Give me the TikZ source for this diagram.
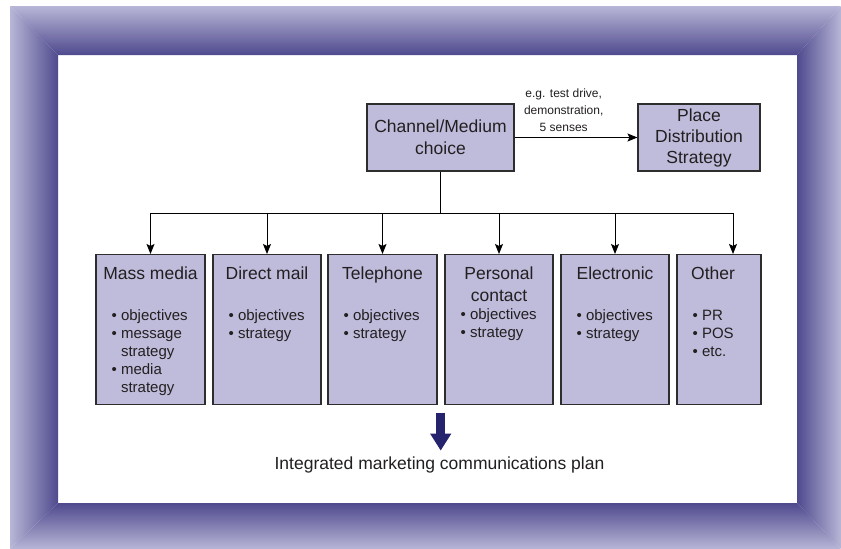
\documentclass[tikz,border=0pt]{standalone}
\usepackage{fontspec}
\setmainfont{Liberation Sans}
\usepackage{tikz}
\usetikzlibrary{calc}
\usetikzlibrary{arrows.meta}
\usepackage{xcolor}
\definecolor{frameDark}{RGB}{79,74,142}
\definecolor{frameLight}{RGB}{184,182,215}
\definecolor{boxFill}{RGB}{190,187,219}
\definecolor{boxLine}{RGB}{45,45,45}
\definecolor{inkGray}{RGB}{35,31,32}
\definecolor{navy}{RGB}{37,34,110}

\begin{document}
\begin{tikzpicture}[x=1pt, y=-1pt,
  box/.style={draw=boxLine, fill=boxFill, line width=1.1pt, inner sep=0pt},
  medium/.style={box, minimum width=#1, minimum height=150, anchor=north},
  head/.style={text=inkGray, font=\fontsize{17.5}{22}\selectfont, align=center, inner sep=0pt},
  items/.style={text=inkGray, font=\fontsize{15}{18}\selectfont, align=left, inner sep=0pt, anchor=base west},
  note/.style={text=inkGray, font=\fontsize{12}{17}\selectfont, align=center, inner sep=0pt},
  >={Stealth[length=10pt, width=8pt, inset=2pt]}
]

% frame
\fill[white] (0,0) rectangle (841,549);
\shade[top color=frameLight, bottom color=frameDark] (10,6) -- (841,6) -- (797,55) -- (58,55) -- cycle;
\shade[top color=frameDark, bottom color=frameLight] (58,503) -- (797,503) -- (841,549) -- (10,549) -- cycle;
\shade[left color=frameLight, right color=frameDark] (10,6) -- (58,55) -- (58,503) -- (10,549) -- cycle;
\shade[left color=frameDark, right color=frameLight] (797,55) -- (841,6) -- (841,549) -- (797,503) -- cycle;

% top row
\node[box, head, minimum width=147, minimum height=67] (chan) at (440.5,137.5) {Channel/Medium\\choice};
\node[box, head, minimum width=122, minimum height=67, font=\fontsize{17.5}{21}\selectfont] (place) at (699,137.5) {Place\\Distribution\\Strategy};

\draw[->, line width=.9pt] (chan) -- node[note, pos=.4, above=5pt] (senses) {e.g. test drive,\\demonstration,\\5 senses} (place);

% media boxes
\node[medium=109] (mass) at (150.5,254) {};
\node[medium=108] (dmail) at (267,254) {};
\node[medium=109] (tel) at (382.5,254) {};
\node[medium=108] (pers) at (499,254) {};
\node[medium=108] (elec) at (615,254) {};
\node[medium=84] (oth) at (719,254) {};

% titles (base = last line)
\node[head, anchor=base] (massT) at ([yshift=-25.5]mass.north) {Mass media};
\node[head, anchor=base] (dmailT) at ([yshift=-25.5]dmail.north) {Direct mail};
\node[head, anchor=base] (telT) at ([yshift=-25.5]tel.north) {Telephone};
\node[head, anchor=base] (persT) at ([yshift=-47.5]pers.north) {Personal\\contact};
\node[head, anchor=base] (elecT) at ([yshift=-25.5]elec.north) {Electronic};
\node[head, anchor=base west] (othT) at ([xshift=14.5, yshift=-25.5]oth.north west) {Other};

\node[items] (massL) at ([xshift=16, yshift=-138]mass.north west) {\textbullet\ objectives\\\textbullet\ message\\\phantom{\textbullet\ }strategy\\\textbullet\ media\\\phantom{\textbullet\ }strategy};
\node[items] (dmailL) at ([xshift=16, yshift=-84]dmail.north west) {\textbullet\ objectives\\\textbullet\ strategy};
\node[items] (telL) at ([xshift=16, yshift=-84]tel.north west) {\textbullet\ objectives\\\textbullet\ strategy};
\node[items] (persL) at ([xshift=16, yshift=-83.5]pers.north west) {\textbullet\ objectives\\\textbullet\ strategy};
\node[items] (elecL) at ([xshift=16, yshift=-84]elec.north west) {\textbullet\ objectives\\\textbullet\ strategy};
\node[items] (othL) at ([xshift=16, yshift=-102]oth.north west) {\textbullet\ PR\\\textbullet\ POS\\\textbullet\ etc.};

% tree
\coordinate (bus) at (0,213);
\coordinate (othIn) at (733,254);
\draw[line width=1pt] (chan.south) -- (chan.south |- bus);
\draw[line width=1pt] (mass.north |- bus) -- (othIn |- bus);
\draw[->, line width=1pt] (mass.north |- bus) -- (mass.north);
\draw[->, line width=1pt] (dmail.north |- bus) -- (dmail.north);
\draw[->, line width=1pt] (tel.north |- bus) -- (tel.north);
\draw[->, line width=1pt] (pers.north |- bus) -- (pers.north);
\draw[->, line width=1pt] (elec.north |- bus) -- (elec.north);
\draw[->, line width=1pt] (othIn |- bus) -- (othIn);

% plan
\node[head, anchor=base, inner sep=6pt] (plan) at (439.5,469.5) {Integrated marketing communications plan};
\coordinate (imc) at (440.7,412.7);
\draw[navy, line width=9pt, -{Triangle[length=17pt, width=20pt]}] (imc) -- (imc |- plan.north);

\end{tikzpicture}
\end{document}
